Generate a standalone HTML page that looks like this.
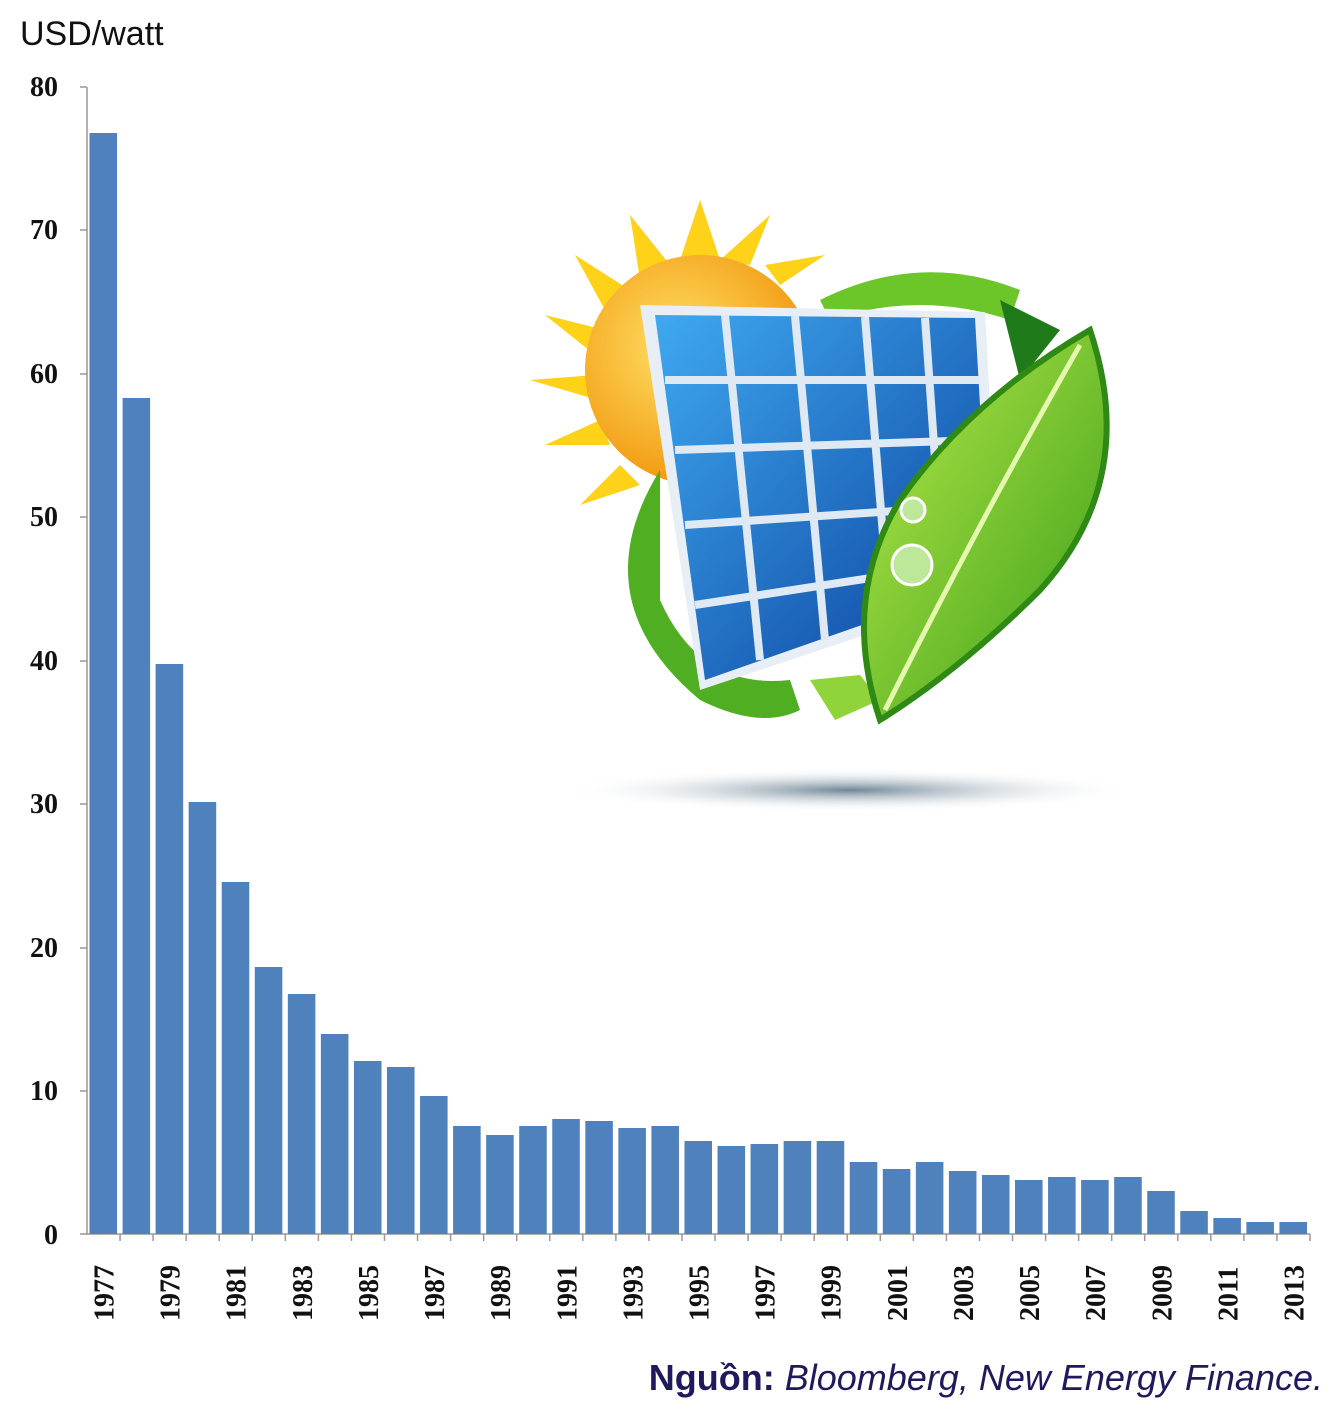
<!DOCTYPE html>
<html><head><meta charset="utf-8"><style>
body{margin:0;background:#fff;width:1337px;height:1405px;overflow:hidden}
</style></head><body>
<svg width="1337" height="1405" xmlns="http://www.w3.org/2000/svg">
<defs>
<radialGradient id="sun" cx="0.4" cy="0.4" r="0.6"><stop offset="0" stop-color="#ffe066"/><stop offset="1" stop-color="#f29a10"/></radialGradient>
<linearGradient id="panel" x1="0" y1="0" x2="1" y2="1"><stop offset="0" stop-color="#3fa9f0"/><stop offset="1" stop-color="#0a3f9c"/></linearGradient>
<linearGradient id="leaf" x1="0" y1="0" x2="1" y2="1"><stop offset="0" stop-color="#b8ea4a"/><stop offset="1" stop-color="#3a9e18"/></linearGradient>
<radialGradient id="shadow" cx="0.5" cy="0.5" r="0.5"><stop offset="0" stop-color="#6f8696"/><stop offset="1" stop-color="#fff" stop-opacity="0"/></radialGradient>
</defs>
<text x="20" y="45" font-family="Liberation Sans, sans-serif" font-size="34" fill="#111">USD/watt</text>
<g font-family="Liberation Serif, serif" font-weight="bold" font-size="28" fill="#111" text-anchor="end">
<text x="58" y="96">80</text><text x="58" y="239">70</text><text x="58" y="383">60</text><text x="58" y="526">50</text><text x="58" y="670">40</text><text x="58" y="813">30</text><text x="58" y="957">20</text><text x="58" y="1100">10</text><text x="58" y="1244">0</text>
</g>
<g stroke="#999" stroke-width="1.5">
<line x1="87" y1="87" x2="87" y2="1235"/><line x1="87" y1="1234" x2="1310" y2="1234"/>
<line x1="80" y1="87" x2="87" y2="87"/><line x1="80" y1="230" x2="87" y2="230"/><line x1="80" y1="374" x2="87" y2="374"/><line x1="80" y1="517" x2="87" y2="517"/><line x1="80" y1="661" x2="87" y2="661"/><line x1="80" y1="804" x2="87" y2="804"/><line x1="80" y1="948" x2="87" y2="948"/><line x1="80" y1="1091" x2="87" y2="1091"/><line x1="80" y1="1234" x2="87" y2="1234"/>
</g>
<g id="bars" fill="#4f81bd"></g>
<g id="ticks" stroke="#999" stroke-width="1.5"></g>
<g id="labels" font-family="Liberation Serif, serif" font-weight="bold" font-size="28" fill="#111"></g>
<ellipse cx="850" cy="790" rx="290" ry="22" fill="url(#shadow)"/>
<g fill="#ffd21a">
<polygon points="700,200 720,260 680,260"/><polygon points="630,215 670,265 640,280"/><polygon points="575,255 630,290 605,310"/><polygon points="545,315 605,330 595,355"/><polygon points="530,380 595,375 598,400"/><polygon points="545,445 600,420 610,445"/><polygon points="580,505 620,465 640,485"/><polygon points="770,215 750,265 720,260"/><polygon points="825,255 780,285 765,265"/>
</g>
<circle cx="700" cy="370" r="115" fill="url(#sun)"/>
<path d="M820,300 Q920,250 1020,290 L1010,320 Q920,290 830,320 Z" fill="#6cc62a"/>
<path d="M1000,300 L1060,330 L1020,380 Z" fill="#1f7a1a"/>
<path d="M660,470 Q580,600 700,700 Q760,730 800,710 L790,680 Q700,690 660,600 Z" fill="#4fae22"/>
<polygon points="810,680 860,675 880,700 835,720" fill="#8fd43a"/>
<polygon points="640,305 985,312 1000,590 700,690" fill="#e8eef5"/>
<polygon points="655,315 975,318 990,580 705,680" fill="url(#panel)"/>
<g stroke="#dfe9f4" stroke-width="8" fill="none">
<line x1="725" y1="315" x2="760" y2="660"/><line x1="795" y1="316" x2="825" y2="640"/><line x1="865" y1="317" x2="890" y2="620"/><line x1="925" y1="318" x2="945" y2="600"/>
<line x1="665" y1="380" x2="980" y2="380"/><line x1="675" y1="450" x2="983" y2="440"/><line x1="685" y1="525" x2="986" y2="505"/><line x1="695" y1="605" x2="988" y2="560"/>
</g>
<path d="M1090,330 Q1140,480 1040,590 Q960,670 880,720 Q840,600 900,500 Q970,400 1090,330 Z" fill="url(#leaf)" stroke="#2e8a14" stroke-width="6"/>
<path d="M885,710 Q980,520 1080,345" stroke="#e6f7b0" stroke-width="5" fill="none"/>
<circle cx="912" cy="565" r="20" fill="#bde89a" stroke="#fff" stroke-width="3"/>
<circle cx="913" cy="510" r="12" fill="#bde89a" stroke="#fff" stroke-width="3"/>
<text x="1323" y="1390" text-anchor="end" font-family="Liberation Sans, sans-serif" font-size="36" fill="#1f1a5e"><tspan font-weight="bold">Nguồn:</tspan><tspan font-style="italic"> Bloomberg, New Energy Finance.</tspan></text>
</svg>
<script>
var tops=[133,398,664,802,882,967,994,1034,1061,1067,1096,1126,1135,1126,1119,1121,1128,1126,1141,1146,1144,1141,1141,1162,1169,1162,1171,1175,1180,1177,1180,1177,1191,1211,1218,1222,1222];
var ns="http://www.w3.org/2000/svg",b=document.getElementById('bars'),t=document.getElementById('ticks'),l=document.getElementById('labels');
var s=(1310-87)/37;
tops.forEach(function(y,i){var x=87+i*s;
var r=document.createElementNS(ns,'rect');r.setAttribute('x',x+2.5);r.setAttribute('y',y);r.setAttribute('width',s-5.5);r.setAttribute('height',1234-y);b.appendChild(r);
var k=document.createElementNS(ns,'line');k.setAttribute('x1',x+s);k.setAttribute('x2',x+s);k.setAttribute('y1',1234);k.setAttribute('y2',1241);t.appendChild(k);
if(i%2==0){var tx=document.createElementNS(ns,'text');var cx=x+s/2+10,cy=1321;tx.setAttribute('x',cx);tx.setAttribute('y',cy);tx.setAttribute('transform','rotate(-90 '+cx+' '+cy+')');tx.textContent=1977+i;l.appendChild(tx);}
});
</script>
</body></html>
